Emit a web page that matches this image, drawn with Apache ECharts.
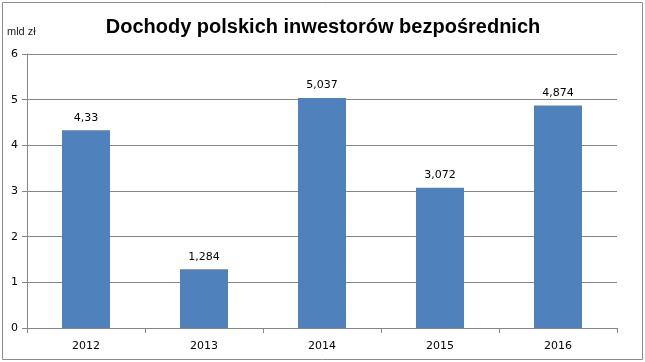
<!DOCTYPE html>
<html><head><meta charset="utf-8">
<script src="https://cdn.jsdelivr.net/npm/echarts@6/dist/echarts.min.js"></script>
<style>html,body{margin:0;padding:0;background:#fff}#c{width:645px;height:362px}</style>
</head><body><div id="c"></div>
<script>
const categories = ['2012','2013','2014','2015','2016'];
const values = [4.33, 1.284, 5.037, 3.072, 4.874];
const labels = ['4,33','1,284','5,037','3,072','4,874'];
const yTicks = [0,1,2,3,4,5,6];

const chart = echarts.init(document.getElementById('c'), null, {renderer:'canvas'});
chart.setOption({
  animation:false,
  backgroundColor:'#fff',
  graphic:[{type:'rect',shape:{x:2.5,y:2.5,width:640,height:357},style:{fill:'none',stroke:'#8c8c8c',lineWidth:1}}],
  title:{text:'Dochody polskich inwestorów bezpośrednich',left:318,top:12,textAlign:'center',
    textStyle:{fontFamily:'Liberation Sans',fontWeight:'bold',fontSize:20,color:'#000'}},
  grid:{left:27,right:28,top:54,bottom:34,containLabel:false},
  xAxis:{type:'category',data:categories,
    axisLine:{lineStyle:{color:'#868686'}},
    axisTick:{show:true,lineStyle:{color:'#868686'},length:5},
    axisLabel:{color:'#000',fontSize:11,fontFamily:'DejaVu Sans',margin:13}},
  yAxis:{type:'value',min:0,max:6,interval:1,name:'mld zł',nameLocation:'end',
    nameGap:17,nameTextStyle:{color:'#222',fontSize:11,fontFamily:'Liberation Sans',align:'left',padding:[0,0,0,-20]},
    axisLine:{show:true,lineStyle:{color:'#868686'}},
    axisTick:{show:true,lineStyle:{color:'#868686'},length:5},
    axisLabel:{color:'#000',fontSize:11,fontFamily:'DejaVu Sans',margin:9},
    splitLine:{lineStyle:{color:'#868686'}}},
  series:[{type:'bar',data:values,barWidth:48,itemStyle:{color:'#4F81BD'},
    label:{show:true,position:'top',distance:7,color:'#000',fontSize:11,fontFamily:'DejaVu Sans',
      formatter:p=>labels[p.dataIndex]}}]
});
</script></body></html>
